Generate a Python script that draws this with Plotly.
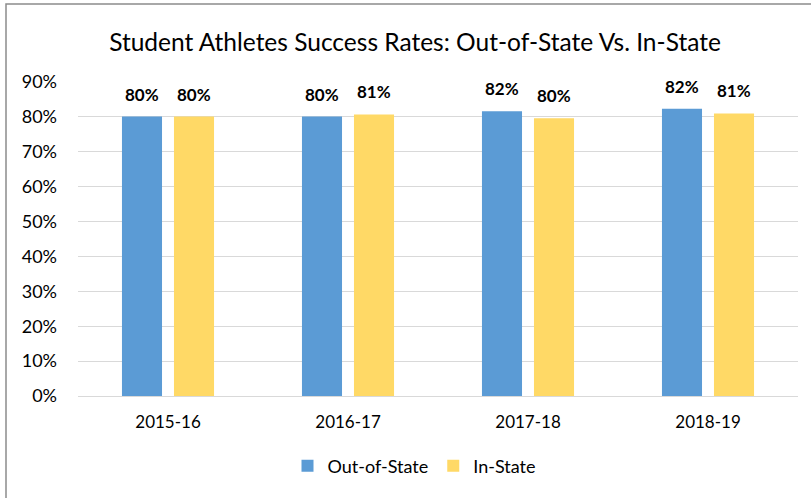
import plotly.graph_objects as go

categories = ["2015-16", "2016-17", "2017-18", "2018-19"]
out_of_state = [0.801, 0.801, 0.816, 0.823]
in_state = [0.801, 0.807, 0.796, 0.810]
out_labels = ["80%", "80%", "82%", "82%"]
in_labels = ["80%", "81%", "80%", "81%"]
y_ticks = [0, 0.1, 0.2, 0.3, 0.4, 0.5, 0.6, 0.7, 0.8, 0.9]

FONT = "Lato"
BLUE = "#5B9BD5"
YELLOW = "#FFD966"

fig = go.Figure()
fig.add_trace(go.Bar(x=categories, y=out_of_state, name="Out-of-State",
                     marker=dict(color=BLUE, line=dict(width=0))))
fig.add_trace(go.Bar(x=categories, y=in_state, name="In-State",
                     marker=dict(color=YELLOW, line=dict(width=0))))

annotations = []
for c, v, t in zip(categories, out_of_state, out_labels):
    annotations.append(dict(x=c, y=v, text=t, xref="x", yref="y", showarrow=False,
                            xshift=-26, yshift=10, yanchor="bottom",
                            font=dict(family=FONT, size=17, color="black", weight="bold")))
for c, v, t in zip(categories, in_state, in_labels):
    annotations.append(dict(x=c, y=v, text=t, xref="x", yref="y", showarrow=False,
                            xshift=26, yshift=10, yanchor="bottom",
                            font=dict(family=FONT, size=17, color="black", weight="bold")))

W, H = 811, 498
L, R, T, B = 78, 13, 82, 102
pw = W - L - R
ph = H - T - B

fig.update_layout(
    width=W, height=H,
    margin=dict(l=L, r=R, t=T, b=B, autoexpand=False),
    paper_bgcolor="white", plot_bgcolor="white",
    barmode="group", bargap=0.422, bargroupgap=0.23,
    font=dict(family=FONT, size=17, color="black"),
    title=dict(text="Student Athletes Success Rates: Out-of-State Vs. In-State",
               x=415 / W, xanchor="center", y=1 - 42 / H, yanchor="middle",
               yref="container", font=dict(family=FONT, size=24.5, color="black")),
    xaxis=dict(showgrid=False, showline=False, ticks="", ticklabelstandoff=14,
               tickfont=dict(size=17), automargin=False),
    yaxis=dict(range=[0, 0.9], tickvals=y_ticks, tickformat=".0%",
               showgrid=True, gridcolor="#D9D9D9", gridwidth=1,
               zeroline=True, zerolinecolor="#D9D9D9", zerolinewidth=1,
               showline=False, ticks="", ticklabelstandoff=20,
               tickfont=dict(size=18), automargin=False),
    legend=dict(orientation="h", x=(414 - L) / pw, xanchor="center",
                y=(T + ph - 466) / ph, yanchor="middle",
                font=dict(size=18), traceorder="normal"),
    annotations=annotations,
    shapes=[dict(type="rect", xref="paper", yref="paper",
                 x0=(6 - L) / pw, x1=(830 - L) / pw,
                 y0=(T + ph - 520) / ph, y1=(T + ph - 4) / ph,
                 line=dict(color="#8C8C8C", width=1.5), fillcolor="rgba(0,0,0,0)",
                 layer="below")],
)

fig.write_html("out.html", config={"displayModeBar": False},
               post_script="document.body.style.margin='0';document.body.style.overflow='hidden';")
